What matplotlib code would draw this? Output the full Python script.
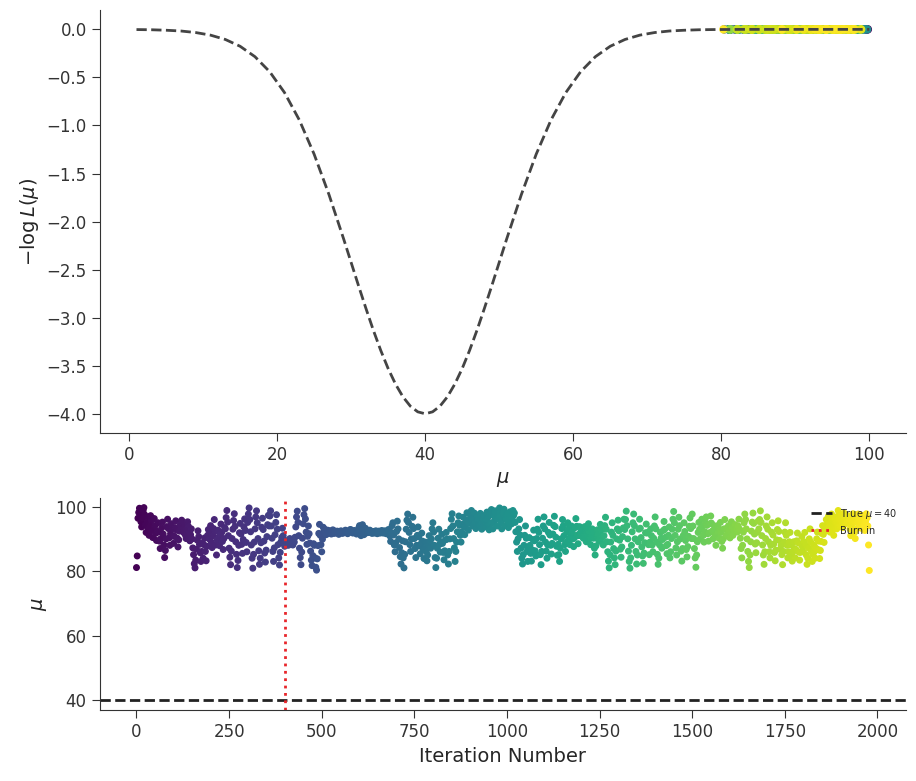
import numpy as np
import matplotlib
matplotlib.use("Agg")
import matplotlib.pyplot as plt
import seaborn as sns

sns.set_style("ticks")
plt.rcParams["font.family"] = ["DejaVu Sans"]

# -log L(mu) curve
mu_grid = [1, 3, 5, 7, 9, 11, 13, 15, 17, 19, 21, 23, 25, 27, 29,
           30, 31, 32, 33, 34, 35, 36, 37, 38, 39, 40, 41, 42, 43, 44, 45, 46, 47, 48, 49, 50,
           51, 53, 55, 57, 59, 61, 63, 65, 67, 69, 71, 73, 75, 77, 79,
           81, 83, 85, 87, 89, 91, 93, 95, 97, 99, 100]
neg_log_l = [-0.002, -0.004, -0.009, -0.017, -0.033, -0.060, -0.105, -0.176, -0.284, -0.441,
             -0.658, -0.943, -1.299, -1.718, -2.184,
             -2.426, -2.668, -2.904, -3.131, -3.341, -3.530, -3.692, -3.824, -3.921, -3.980,
             -4.000, -3.980, -3.921, -3.824, -3.692, -3.530, -3.341, -3.131, -2.904, -2.668, -2.426,
             -2.184, -1.718, -1.299, -0.943, -0.658, -0.441, -0.284, -0.176, -0.105, -0.060,
             -0.033, -0.017, -0.009, -0.004, -0.002,
             -0.001, 0, 0, 0, 0, 0, 0, 0, 0, 0, 0]

# MCMC trace (every 2nd iteration)
step = 2
trace = [
    81.2, 84.8, 96.5, 98.3, 99.6, 97.1, 95.4, 93.8, 96.2, 98.9, 99.8, 97.6, 94.3, 92.1, 95.0, 96.8, 93.4, 91.2, 94.6, 97.3, 95.8, 92.7, 90.5, 93.1, 96.4, 94.2, 91.8, 89.6, 92.4, 95.1,
    92.3, 89.4, 87.1, 90.2, 93.5, 95.3, 91.6, 88.2, 84.3, 86.5, 90.1, 93.9, 96.2, 93.3, 90.4, 88.1, 91.7, 94.8, 93.2, 91.0, 88.7, 90.9, 93.6, 95.7, 92.8, 90.3, 87.6, 89.8, 92.5, 94.4,
    94.1, 95.9, 95.2, 93.4, 92.0, 94.3, 91.3, 90.2, 93.1, 95.4, 94.0, 92.2, 89.5, 91.4, 93.2, 90.1, 87.3, 85.2, 82.4, 81.1, 83.5, 86.9, 89.7, 92.6, 90.8, 88.4, 85.8, 83.1, 86.2, 88.9,
    84.1, 88.3, 90.4, 86.2, 83.3, 87.8, 91.2, 93.0, 90.1, 92.3, 94.2, 89.1, 87.4, 91.0, 93.3, 96.1, 92.4, 88.2, 85.1, 89.7, 92.8, 90.6, 88.0, 91.5, 94.7, 92.1, 89.3, 86.8, 90.2, 93.6,
    93.2, 96.7, 98.9, 95.3, 91.1, 87.2, 84.4, 82.1, 86.3, 90.2, 93.1, 95.8, 97.9, 94.0, 89.2, 85.3, 81.2, 83.4, 88.1, 92.0, 94.9, 91.6, 88.4, 85.6, 89.9, 93.8, 96.3, 92.7, 89.0, 86.1,
    95.2, 97.8, 99.7, 96.1, 92.3, 88.2, 84.1, 81.0, 85.3, 89.1, 93.2, 96.9, 98.8, 95.1, 90.2, 86.4, 82.2, 84.1, 88.9, 93.7, 96.5, 93.0, 89.4, 85.7, 82.9, 86.6, 90.8, 94.5, 97.4, 94.1,
    97.2, 98.8, 94.1, 90.3, 86.2, 83.1, 87.3, 91.4, 95.2, 97.6, 93.1, 88.3, 84.2, 82.0, 85.9, 89.2, 90.5, 93.4, 91.1, 88.6, 87.8, 89.4, 88.2, 88.9, 89.6, 88.1, 89.0, 90.2, 88.7, 89.3,
    88.9, 88.2, 89.8, 89.1, 90.6, 93.8, 96.9, 98.7, 95.2, 91.1, 87.2, 84.3, 82.1, 86.0, 90.3, 94.8, 97.6, 99.5, 96.3, 92.2, 88.4, 90.9, 94.1, 91.7, 88.8, 86.3, 83.5, 81.8, 84.9, 88.6,
    88.1, 84.2, 81.3, 80.4, 83.9, 88.0, 91.8, 94.6, 91.2, 88.3, 86.1, 90.0, 93.7, 92.4, 93.1, 92.2, 91.4, 92.0, 92.8, 92.3, 91.9, 92.6, 92.1, 91.6, 92.4, 92.9, 92.2, 91.8, 92.5, 92.0,
    92.1, 92.5, 92.0, 91.5, 92.0, 92.3, 92.6, 92.0, 91.8, 92.2, 92.0, 92.5, 92.8, 92.3, 92.0, 91.7, 92.0, 92.4, 92.9, 93.0, 92.6, 92.2, 91.9, 92.3, 92.7, 92.4, 92.0, 91.6, 92.1, 92.5,
    93.5, 94.2, 92.5, 91.1, 92.8, 94.5, 93.0, 91.4, 92.0, 93.4, 92.5, 92.0, 92.3, 92.1, 92.5, 92.8, 92.2, 92.0, 91.8, 92.1, 92.4, 91.9, 92.2, 92.6, 92.0, 91.7, 92.3, 92.5, 92.1, 91.9,
    92.4, 92.7, 92.2, 91.9, 92.3, 92.6, 92.1, 91.7, 92.0, 92.5, 93.0, 92.2, 91.0, 89.3, 92.1, 94.2, 95.1, 91.3, 88.2, 86.1, 88.9, 92.4, 95.6, 93.2, 90.1, 87.4, 84.6, 82.3, 85.8, 89.5,
    84.2, 81.1, 85.3, 89.2, 93.1, 95.9, 97.8, 95.2, 92.1, 88.3, 86.2, 90.1, 94.0, 96.8, 93.3, 90.2, 87.1, 84.3, 88.1, 91.2, 93.8, 90.7, 87.9, 85.5, 88.6, 91.9, 89.4, 86.8, 84.0, 87.3,
    89.1, 86.2, 83.3, 85.1, 88.2, 91.1, 89.3, 87.2, 90.1, 93.2, 95.1, 92.2, 88.1, 84.3, 81.2, 84.1, 87.2, 90.3, 93.1, 88.4, 86.0, 89.2, 91.5, 88.7, 85.9, 83.6, 86.4, 89.8, 92.1, 90.0,
    85.1, 82.3, 86.2, 90.1, 93.3, 96.2, 97.9, 94.1, 90.2, 87.3, 83.1, 86.2, 89.1, 92.3, 95.1, 97.2, 94.3, 91.2, 89.1, 92.2, 94.6, 96.8, 93.9, 91.4, 93.7, 96.0, 98.2, 95.4, 92.8, 94.9,
    95.2, 97.1, 98.9, 96.2, 94.1, 96.3, 98.1, 95.2, 93.3, 95.1, 97.2, 96.1, 94.2, 96.3, 98.0, 95.3, 93.1, 94.2, 96.1, 97.3, 95.6, 93.8, 95.9, 98.4, 96.7, 94.5, 92.9, 95.0, 97.5, 99.2,
    95.1, 93.2, 95.3, 97.1, 98.8, 98.1, 96.2, 94.1, 96.3, 98.2, 99.7, 97.2, 95.1, 93.2, 96.1, 98.0, 99.3, 97.1, 94.2, 96.3, 97.8, 95.5, 93.6, 95.8, 98.5, 96.9, 94.7, 96.6, 98.9, 97.4,
    98.1, 95.2, 92.3, 89.1, 86.2, 90.1, 93.2, 96.1, 91.3, 87.2, 84.1, 82.3, 85.2, 88.1, 91.2, 94.1, 90.3, 86.2, 83.1, 87.2, 90.5, 88.1, 85.6, 83.2, 86.7, 89.9, 92.8, 89.5, 86.4, 84.8,
    90.2, 93.1, 96.2, 92.1, 88.3, 85.2, 82.1, 86.2, 90.3, 94.1, 96.9, 93.2, 89.1, 86.3, 84.1, 88.2, 92.1, 95.2, 91.3, 88.1, 85.4, 88.7, 91.6, 94.3, 97.1, 93.9, 90.6, 87.8, 85.0, 88.4,
    85.2, 83.1, 87.2, 90.1, 93.3, 96.1, 94.2, 91.1, 88.3, 86.2, 89.1, 92.2, 95.1, 93.2, 90.1, 88.3, 91.2, 94.1, 92.3, 90.1, 87.7, 90.4, 93.6, 96.4, 94.0, 91.3, 88.6, 91.1, 93.9, 92.0,
    91.2, 93.1, 92.2, 90.3, 91.1, 93.9, 92.1, 89.2, 91.1, 93.2, 94.8, 92.1, 90.2, 88.3, 91.1, 93.2, 92.1, 90.3, 87.2, 85.1, 87.9, 90.6, 92.9, 91.4, 89.5, 92.2, 94.6, 92.8, 90.4, 88.6,
    88.2, 91.1, 94.2, 96.8, 93.1, 89.2, 86.1, 83.2, 81.1, 85.2, 89.1, 92.2, 95.1, 91.2, 87.1, 84.2, 82.1, 86.3, 90.1, 93.2, 95.9, 92.6, 89.7, 86.9, 84.4, 87.6, 90.8, 93.5, 96.2, 93.0,
    96.1, 98.7, 94.2, 90.1, 86.3, 83.1, 81.0, 84.2, 88.1, 92.3, 95.1, 97.8, 94.2, 90.1, 86.2, 82.3, 85.1, 89.2, 93.1, 96.2, 93.4, 90.5, 87.6, 84.8, 82.5, 85.7, 88.9, 92.0, 94.7, 91.9,
    92.1, 88.3, 85.2, 89.1, 93.2, 91.1, 88.2, 86.1, 90.3, 94.1, 96.9, 93.2, 89.1, 85.3, 82.2, 84.1, 88.2, 92.1, 90.3, 87.2, 89.9, 92.7, 95.5, 93.1, 90.6, 88.0, 85.5, 88.4, 91.2, 93.8,
    84.2, 86.1, 90.2, 93.1, 96.2, 98.6, 95.1, 91.2, 87.3, 85.1, 89.2, 93.1, 96.8, 94.2, 90.1, 86.3, 83.2, 87.1, 91.2, 95.1, 92.4, 89.6, 86.8, 84.5, 87.7, 90.9, 94.0, 96.6, 93.3, 90.2,
    97.8, 94.1, 90.2, 87.1, 84.2, 81.3, 85.1, 89.2, 92.1, 95.2, 93.1, 90.2, 93.1, 96.2, 94.1, 91.2, 89.1, 92.3, 95.1, 96.9, 94.3, 91.7, 89.4, 92.0, 94.8, 97.2, 95.0, 92.5, 90.1, 92.8,
    94.1, 91.2, 88.1, 91.3, 94.2, 92.1, 90.3, 93.1, 95.2, 92.1, 89.3, 87.2, 90.1, 93.2, 96.1, 93.2, 91.1, 93.3, 92.1, 94.2, 92.6, 90.4, 92.9, 95.4, 93.5, 91.2, 93.8, 92.4, 94.5, 93.0,
    93.1, 92.2, 94.1, 96.2, 93.1, 90.3, 87.1, 84.2, 88.1, 92.2, 95.1, 97.8, 96.1, 93.2, 90.1, 86.2, 83.1, 81.2, 85.1, 89.2, 92.5, 95.3, 98.1, 94.9, 91.6, 88.5, 85.8, 88.9, 92.2, 95.6,
    93.2, 96.1, 98.8, 95.2, 91.1, 88.2, 85.1, 82.2, 86.1, 90.2, 94.1, 96.9, 93.1, 89.2, 86.1, 84.2, 88.1, 92.2, 95.1, 91.3, 88.5, 85.9, 83.3, 86.6, 89.8, 93.0, 95.7, 92.4, 89.6, 86.9,
    88.1, 85.2, 82.1, 86.2, 89.1, 92.2, 95.1, 91.2, 88.1, 84.2, 86.1, 89.2, 92.1, 88.2, 85.1, 83.2, 86.1, 89.2, 87.1, 84.2, 86.8, 89.5, 91.9, 88.9, 86.0, 83.5, 85.9, 88.4, 90.8, 87.6,
    86.1, 89.2, 92.1, 88.2, 85.1, 82.2, 84.1, 87.2, 90.1, 93.2, 89.1, 86.2, 83.1, 85.2, 88.1, 86.2, 84.1, 87.2, 90.1, 92.2, 89.4, 86.7, 84.0, 86.5, 89.3, 91.8, 94.2, 91.5, 89.0, 92.6,
    94.2, 96.1, 93.2, 95.1, 97.2, 94.1, 92.2, 95.1, 97.8, 96.2, 93.1, 91.2, 94.1, 96.2, 95.1, 93.2, 97.1, 98.9, 96.1, 94.2, 95.7, 97.5, 95.3, 93.6, 95.9, 98.1, 96.4, 94.8, 96.7, 95.2,
    95.1, 97.2, 96.1, 93.2, 91.1, 94.2, 96.1, 97.9, 95.2, 92.1, 90.2, 93.1, 95.2, 97.1, 97.8, 96.1, 94.2, 95.1, 93.4, 95.8, 97.4, 96.0, 94.3, 92.7, 95.5, 97.9, 96.6, 94.1, 88.2, 80.3,
]
true_mu = 40
burn_in = 400

trace = np.array(trace, dtype=float)
iters = np.arange(len(trace)) * step

fig = plt.figure(figsize=(9.16, 7.81), dpi=100)
ax1 = fig.add_axes([0.109, 0.4456, 0.880, 0.5414])
ax2 = fig.add_axes([0.109, 0.0909, 0.880, 0.2715])

# top: likelihood curve with the sampled points
ax1.scatter(trace, np.zeros_like(trace), c=iters, cmap="viridis", s=26, zorder=2)
ax1.plot(mu_grid, neg_log_l, color="#444444", ls="--", lw=2, zorder=3)
ax1.set_xlabel(r"$\mu$", fontsize=14)
ax1.set_ylabel(r"$-\log L(\mu)$", fontsize=14)

# bottom: trace
ax2.scatter(iters, trace, c=iters, cmap="viridis", s=16)
ax2.axhline(true_mu, color="#222222", ls="--", lw=2, label=r"True $\mu = 40$")
ax2.axvline(burn_in, color="#e8262b", ls=":", lw=2, label="Burn in")
ax2.set_xlabel("Iteration Number", fontsize=14)
ax2.set_ylabel(r"$\mu$", fontsize=14)
ax2.legend(loc="upper right", fontsize=7, frameon=False, handlelength=2.2)

for ax in (ax1, ax2):
    ax.tick_params(labelsize=12, length=6, color="#333333", labelcolor="#333333")
    for sp in ax.spines.values():
        sp.set_color("#333333")

sns.despine(fig=fig)
fig.savefig("out.png", dpi=100)
